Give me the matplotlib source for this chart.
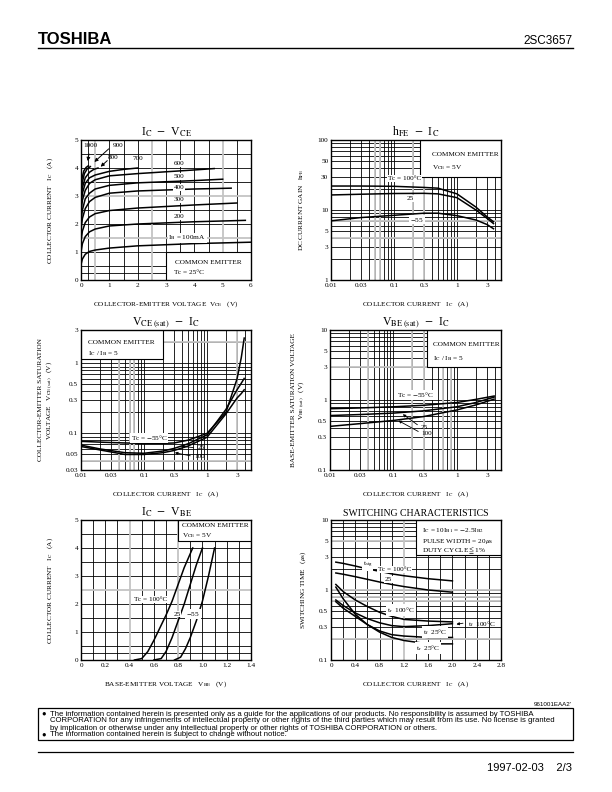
import numpy as np
import matplotlib
matplotlib.use("Agg")
import matplotlib.pyplot as plt
from matplotlib.patches import Rectangle
from matplotlib.ticker import FixedLocator, NullFormatter

plt.rcParams['font.family'] = ['Liberation Serif', 'DejaVu Serif']
plt.rcParams['mathtext.fontset'] = 'stix'

# ---- data: Ic - Vce (Ib in mA) ----
ib_labels = ['1000', '900', '800', '700', '600', '500', '400', '300', '200']
vce_x = {
    100: [0, 0.05, 0.15, 0.3, 0.5, 1, 2, 4, 6],
    200: [0, 0.05, 0.15, 0.3, 0.5, 1, 2, 4, 5.8],
    300: [0, 0.05, 0.15, 0.3, 0.5, 1, 2, 4, 5.5],
    400: [0, 0.05, 0.15, 0.3, 0.5, 1, 2, 4, 5.3],
    500: [0, 0.05, 0.15, 0.3, 0.5, 1, 2, 4, 5.0],
    600: [0, 0.05, 0.15, 0.3, 0.5, 1, 2, 4, 4.7],
    700: [0, 0.05, 0.15, 0.3, 0.5, 1, 1.5, 2],
    800: [0, 0.05, 0.15, 0.3, 0.45, 0.6],
    900: [0, 0.05, 0.12, 0.22, 0.33],
    1000: [0, 0.04, 0.1, 0.18, 0.26],
}
vce_ic = {
    100: [0.55, 0.75, 0.92, 1.02, 1.07, 1.14, 1.22, 1.3, 1.35],
    200: [1.0, 1.3, 1.55, 1.72, 1.82, 1.93, 2.0, 2.08, 2.13],
    300: [1.4, 1.75, 2.05, 2.25, 2.37, 2.48, 2.57, 2.68, 2.75],
    400: [1.8, 2.2, 2.55, 2.8, 2.95, 3.1, 3.18, 3.25, 3.28],
    500: [2.1, 2.5, 2.9, 3.1, 3.25, 3.38, 3.47, 3.55, 3.6],
    600: [2.4, 2.85, 3.2, 3.45, 3.58, 3.72, 3.8, 3.93, 3.98],
    700: [2.7, 3.1, 3.45, 3.65, 3.75, 3.88, 3.95, 4.0],
    800: [2.9, 3.3, 3.65, 3.85, 3.95, 4.0],
    900: [3.1, 3.5, 3.8, 3.97, 4.05],
    1000: [3.3, 3.65, 3.9, 4.02, 4.08],
}

# ---- data: hFE - Ic ----
hfe_ic = [0.01, 0.03, 0.1, 0.3, 0.5, 1, 2, 3, 3.8]
hfe_100 = [22, 22, 21.8, 21, 20.5, 17, 11, 8, 6.8]
hfe_25 = [16.4, 16.8, 17.2, 17.3, 17, 15, 10, 7.6, 6.4]
hfe_m55 = [7.0, 7.8, 8.4, 9.0, 9.0, 8.3, 7.2, 6.2, 5.4]

# ---- data: Vce(sat) - Ic ----
vs_ic = [0.01, 0.02, 0.05, 0.1, 0.2, 0.3, 0.5, 1, 2, 3, 3.5, 3.9]
vs_m55 = [0.077, 0.075, 0.073, 0.072, 0.072, 0.073, 0.08, 0.1, 0.2, 0.6, 1.2, 2.3]
vs_25 = [0.068, 0.06, 0.053, 0.052, 0.056, 0.061, 0.071, 0.095, 0.22, 0.42, 0.52, 0.61]
vs_100 = [0.065, 0.058, 0.05, 0.05, 0.053, 0.057, 0.066, 0.088, 0.19, 0.32, 0.37, 0.42]

# ---- data: Vbe(sat) - Ic ----
vb_ic = [0.01, 0.03, 0.1, 0.3, 1, 2, 3.9]
vb_m55 = [0.75, 0.77, 0.8, 0.84, 0.92, 1.02, 1.14]
vb_25 = [0.6, 0.62, 0.65, 0.7, 0.8, 0.92, 1.1]
vb_100 = [0.42, 0.46, 0.51, 0.58, 0.72, 0.85, 1.03]

# ---- data: Ic - Vbe ----
vbe_100 = [0.44, 0.5, 0.55, 0.6, 0.65, 0.7, 0.75, 0.8, 0.85, 0.92]
ic_100 = [0, 0.05, 0.3, 0.7, 1.15, 1.6, 2.1, 2.7, 3.3, 4.0]
vbe_25 = [0.6, 0.66, 0.7, 0.75, 0.8, 0.85, 0.9, 0.95, 1.0]
ic_25 = [0, 0.05, 0.3, 0.8, 1.4, 2.0, 2.7, 3.4, 4.0]
vbe_m55 = [0.77, 0.82, 0.86, 0.9, 0.95, 1.0, 1.05, 1.1]
ic_m55 = [0, 0.1, 0.4, 0.8, 1.4, 2.1, 3.0, 4.0]

# ---- data: switching ----
sw_ic = [0.08, 0.2, 0.4, 0.6, 0.8, 1.0, 1.2, 1.6, 2.0]
tstg_100 = [2.5, 2.4, 2.2, 2.0, 1.85, 1.7, 1.6, 1.45, 1.35]
tstg_25 = [1.75, 1.68, 1.55, 1.42, 1.3, 1.2, 1.12, 1.0, 0.93]
tr_100 = [1.2, 0.95, 0.72, 0.58, 0.48, 0.42, 0.38, 0.36, 0.35]
tf_100 = [0.72, 0.6, 0.47, 0.39, 0.34, 0.31, 0.3, 0.31, 0.33]
tr_25 = [1.1, 0.75, 0.45, 0.32, 0.25, 0.21, 0.19, 0.17, 0.17]
tf_25 = [0.68, 0.55, 0.42, 0.32, 0.26, 0.23, 0.22, 0.21, 0.21]

FS = 5.2
W, H = 612, 792
fig = plt.figure(figsize=(6.12, 7.92), dpi=100)


def make_axes(x0, y0, x1, y1):
    return fig.add_axes([x0 / W, 1 - y1 / H, (x1 - x0) / W, (y1 - y0) / H])


def style(ax, title, tsize=8.5):
    for s in ax.spines.values():
        s.set_linewidth(1.0)
    ax.tick_params(which='both', length=0, labelsize=FS, pad=2)
    ax.set_title(title, fontsize=tsize, pad=3)


def grid_lines(ax, xs, ys, gx=(), gy=()):
    for x in xs:
        ax.axvline(x, color='black', lw=0.6, zorder=1)
    for y in ys:
        ax.axhline(y, color='black', lw=0.6, zorder=1)
    for x in gx:
        ax.axvline(x, color='#c4c4c4', lw=1.3, zorder=1.1)
    for y in gy:
        ax.axhline(y, color='#c4c4c4', lw=1.3, zorder=1.1)


def log_lines(lo, hi):
    out = []
    d = 10.0 ** np.floor(np.log10(lo))
    while d < hi:
        for m in range(1, 10):
            v = m * d
            if lo < v < hi:
                out.append(v)
        d *= 10
    return out


def box(ax, x0, y0, x1, y1):
    ax.add_patch(Rectangle((x0, y0), x1 - x0, y1 - y0, facecolor='white',
                           edgecolor='black', lw=0.8, zorder=2))


def lab(ax, x, y, s, **kw):
    kw.setdefault('fontsize', FS)
    ax.text(x, y, s, zorder=5, **kw)


def wlab(ax, x, y, s, **kw):
    kw.setdefault('fontsize', FS)
    ax.text(x, y, s, zorder=5, ha='center', va='center',
            bbox=dict(facecolor='white', edgecolor='none', pad=0.6), **kw)


CL = dict(color='black', lw=1.1, zorder=4)

# ===== 1: Ic - Vce =====
ax = make_axes(81, 140, 251, 280)
ax.set_xlim(0, 6)
ax.set_ylim(0, 5)
grid_lines(ax, [0.25, 1, 1.5, 2, 3, 3.5, 4, 4.5, 5.5],
           [0.25, 0.5, 1, 2, 2.5, 3.5, 4, 4.5], gx=[0.5, 2.5, 5], gy=[1.5, 3])
box(ax, 3.0, -0.1, 6.2, 1.0)
for ib in vce_x:
    ax.plot(vce_x[ib], vce_ic[ib], **CL)
ax.set_xticks(range(0, 7))
ax.set_yticks(range(0, 6))
style(ax, r'I$_{\rm C}$  $-$  V$_{\rm CE}$')
lab(ax, 0.32, 4.79, '1000', ha='center', va='center')
lab(ax, 1.3, 4.81, '900', ha='center', va='center')
lab(ax, 1.12, 4.37, '800', ha='center', va='center')
lab(ax, 2.0, 4.33, '700', ha='center', va='center')
for s, y in zip(ib_labels[4:], [4.17, 3.69, 3.31, 2.86, 2.26]):
    wlab(ax, 3.46, y, s)
wlab(ax, 3.75, 1.5, r'I$_{\rm B}$ = 100mA')
lab(ax, 4.5, 0.62, 'COMMON EMITTER', ha='center', va='center')
lab(ax, 3.3, 0.26, r'Tc = 25°C', ha='left', va='center')
arr = dict(arrowstyle='-|>', lw=0.7, color='black', mutation_scale=5)
ax.annotate('', xy=(0.22, 4.15), xytext=(0.3, 4.6), arrowprops=arr, zorder=5)
ax.annotate('', xy=(0.4, 4.15), xytext=(1.05, 4.75), arrowprops=arr, zorder=5)
ax.annotate('', xy=(0.62, 3.98), xytext=(1.0, 4.33), arrowprops=arr, zorder=5)
ax.set_xlabel(r'COLLECTOR-EMITTER VOLTAGE  V$_{\rm CE}$   (V)', fontsize=FS, labelpad=8)
ax.set_ylabel(r'COLLECTOR CURRENT   I$_{\rm C}$   (A)', fontsize=FS, labelpad=14)

# ===== 2: hFE - Ic =====
ax = make_axes(331, 140, 501, 280)
ax.set_xscale('log')
ax.set_yscale('log')
ax.set_xlim(0.01, 5)
ax.set_ylim(1, 100)
grid_lines(ax, log_lines(0.01, 5), log_lines(1, 100),
           gx=[0.05, 0.06, 0.2, 0.3], gy=[4, 7])
box(ax, 0.26, 30, 6, 110)
ax.plot(hfe_ic, hfe_100, **CL)
ax.plot(hfe_ic, hfe_25, **CL)
ax.plot(hfe_ic, hfe_m55, **CL)
ax.xaxis.set_major_locator(FixedLocator([0.01, 0.03, 0.1, 0.3, 1, 3]))
ax.set_xticklabels(['0.01', '0.03', '0.1', '0.3', '1', '3'])
ax.yaxis.set_major_locator(FixedLocator([1, 3, 5, 10, 30, 50, 100]))
ax.set_yticklabels(['1', '3', '5', '10', '30', '50', '100'])
ax.xaxis.set_minor_formatter(NullFormatter())
ax.yaxis.set_minor_formatter(NullFormatter())
style(ax, r'h$_{\rm FE}$  $-$  I$_{\rm C}$')
wlab(ax, 0.145, 28, r'Tc = 100°C')
wlab(ax, 0.18, 14.5, '25')
wlab(ax, 0.23, 7.3, r'$-$55')
lab(ax, 0.4, 62, 'COMMON EMITTER', ha='left', va='center')
lab(ax, 0.4, 40, r'V$_{\rm CE}$ = 5V', ha='left', va='center')
ax.set_xlabel(r'COLLECTOR CURRENT   I$_{\rm C}$   (A)', fontsize=FS, labelpad=8)
ax.set_ylabel(r'DC CURRENT GAIN   h$_{\rm FE}$', fontsize=FS, labelpad=8)

# ===== 3: Vce(sat) - Ic =====
ax = make_axes(81, 330, 251, 470)
ax.set_xscale('log')
ax.set_yscale('log')
ax.set_xlim(0.01, 5)
ax.set_ylim(0.03, 3)
grid_lines(ax, log_lines(0.01, 5), log_lines(0.03, 3),
           gx=[0.04, 0.06, 0.07, 3], gy=[0.04, 2])
box(ax, 0.008, 1.15, 0.2, 4)
ax.plot(vs_ic, vs_m55, **CL)
ax.plot(vs_ic, vs_25, **CL)
ax.plot(vs_ic, vs_100, **CL)
ax.xaxis.set_major_locator(FixedLocator([0.01, 0.03, 0.1, 0.3, 1, 3]))
ax.set_xticklabels(['0.01', '0.03', '0.1', '0.3', '1', '3'])
ax.yaxis.set_major_locator(FixedLocator([0.03, 0.05, 0.1, 0.3, 0.5, 1, 3]))
ax.set_yticklabels(['0.03', '0.05', '0.1', '0.3', '0.5', '1', '3'])
ax.xaxis.set_minor_formatter(NullFormatter())
ax.yaxis.set_minor_formatter(NullFormatter())
style(ax, r'V$_{\rm CE\ (sat)}$  $-$  I$_{\rm C}$')
lab(ax, 0.013, 2.0, 'COMMON EMITTER', ha='left', va='center')
lab(ax, 0.013, 1.4, r'I$_{\rm C}$ / I$_{\rm B}$ = 5', ha='left', va='center')
wlab(ax, 0.12, 0.086, r'Tc = $-$55°C')
lab(ax, 0.7, 0.063, '25', ha='left', va='center')
lab(ax, 0.62, 0.047, '100', ha='left', va='center')
arr2 = dict(arrowstyle='-|>', lw=0.6, color='black', mutation_scale=4)
ax.annotate('', xy=(0.35, 0.066), xytext=(0.68, 0.062), arrowprops=arr2, zorder=5)
ax.annotate('', xy=(0.28, 0.054), xytext=(0.6, 0.047), arrowprops=arr2, zorder=5)
ax.set_xlabel(r'COLLECTOR CURRENT   I$_{\rm C}$   (A)', fontsize=FS, labelpad=8)
ax.set_ylabel('COLLECTOR-EMITTER SATURATION\n' + r'VOLTAGE   V$_{\rm CE\ (sat)}$   (V)',
              fontsize=FS, labelpad=8)

# ===== 4: Vbe(sat) - Ic =====
ax = make_axes(330, 330, 501, 470)
ax.set_xscale('log')
ax.set_yscale('log')
ax.set_xlim(0.01, 5)
ax.set_ylim(0.1, 10)
grid_lines(ax, log_lines(0.01, 5), log_lines(0.1, 10),
           gx=[0.04, 0.2, 0.3, 0.6, 0.8], gy=[3])
box(ax, 0.34, 3, 6, 11)
ax.plot(vb_ic, vb_m55, **CL)
ax.plot(vb_ic, vb_25, **CL)
ax.plot(vb_ic, vb_100, **CL)
ax.xaxis.set_major_locator(FixedLocator([0.01, 0.03, 0.1, 0.3, 1, 3]))
ax.set_xticklabels(['0.01', '0.03', '0.1', '0.3', '1', '3'])
ax.yaxis.set_major_locator(FixedLocator([0.1, 0.3, 0.5, 1, 3, 5, 10]))
ax.set_yticklabels(['0.1', '0.3', '0.5', '1', '3', '5', '10'])
ax.xaxis.set_minor_formatter(NullFormatter())
ax.yaxis.set_minor_formatter(NullFormatter())
style(ax, r'V$_{\rm BE\ (sat)}$  $-$  I$_{\rm C}$')
lab(ax, 0.42, 6.2, 'COMMON EMITTER', ha='left', va='center')
lab(ax, 0.42, 3.9, r'I$_{\rm C}$ / I$_{\rm B}$ = 5', ha='left', va='center')
wlab(ax, 0.22, 1.18, r'Tc = $-$55°C')
lab(ax, 0.27, 0.41, '25', ha='left', va='center')
lab(ax, 0.28, 0.33, '100', ha='left', va='center')
ax.annotate('', xy=(0.13, 0.66), xytext=(0.26, 0.42), arrowprops=arr2, zorder=5)
ax.annotate('', xy=(0.11, 0.53), xytext=(0.27, 0.34), arrowprops=arr2, zorder=5)
ax.set_xlabel(r'COLLECTOR CURRENT   I$_{\rm C}$   (A)', fontsize=FS, labelpad=8)
ax.set_ylabel('BASE-EMITTER SATURATION VOLTAGE\n' + r'V$_{\rm BE\ (sat)}$   (V)',
              fontsize=FS, labelpad=8)

# ===== 5: Ic - Vbe =====
ax = make_axes(81, 520, 251, 660)
ax.set_xlim(0, 1.4)
ax.set_ylim(0, 5)
grid_lines(ax, [0.1, 0.2, 0.3, 0.5, 0.6, 0.7, 0.9, 1.0, 1.1, 1.2, 1.3],
           [0.25, 0.5, 1, 1.5, 2, 3, 3.5, 4, 4.5], gx=[0.4, 0.8], gy=[2.5])
box(ax, 0.8, 4.25, 1.5, 5.2)
ax.plot(vbe_100, ic_100, **CL)
ax.plot(vbe_25, ic_25, **CL)
ax.plot(vbe_m55, ic_m55, **CL)
ax.set_xticks([0, 0.2, 0.4, 0.6, 0.8, 1.0, 1.2, 1.4])
ax.set_xticklabels(['0', '0.2', '0.4', '0.6', '0.8', '1.0', '1.2', '1.4'])
ax.set_yticks(range(0, 6))
style(ax, r'I$_{\rm C}$  $-$  V$_{\rm BE}$')
lab(ax, 0.83, 4.8, 'COMMON EMITTER', ha='left', va='center')
lab(ax, 0.83, 4.45, r'V$_{\rm CE}$ = 5V', ha='left', va='center')
wlab(ax, 0.575, 2.17, r'Tc = 100°C')
wlab(ax, 0.79, 1.64, '25')
wlab(ax, 0.92, 1.64, r'$-$55')
ax.set_xlabel(r'BASE-EMITTER VOLTAGE   V$_{\rm BE}$   (V)', fontsize=FS, labelpad=8)
ax.set_ylabel(r'COLLECTOR CURRENT   I$_{\rm C}$   (A)', fontsize=FS, labelpad=14)

# ===== 6: switching =====
ax = make_axes(331, 520, 501, 660)
ax.set_yscale('log')
ax.set_xlim(0, 2.8)
ax.set_ylim(0.1, 10)
grid_lines(ax, [0.2, 0.4, 0.6, 0.8, 1.0, 1.4, 1.6, 1.8, 2.0, 2.2, 2.4, 2.6],
           log_lines(0.1, 10), gx=[1.2], gy=[0.2, 0.7, 0.8, 1, 5])
box(ax, 1.4, 3.2, 3, 11)
for yv in (tstg_100, tstg_25, tr_100, tf_100, tr_25, tf_25):
    ax.plot(sw_ic, yv, **CL)
ax.set_xticks([0, 0.4, 0.8, 1.2, 1.6, 2.0, 2.4, 2.8])
ax.set_xticklabels(['0', '0.4', '0.8', '1.2', '1.6', '2.0', '2.4', '2.8'])
ax.yaxis.set_major_locator(FixedLocator([0.1, 0.3, 0.5, 1, 3, 5, 10]))
ax.set_yticklabels(['0.1', '0.3', '0.5', '1', '3', '5', '10'])
ax.yaxis.set_minor_formatter(NullFormatter())
style(ax, 'SWITCHING CHARACTERISTICS', tsize=7)
lab(ax, 1.5, 7.0, r'I$_{\rm C}$ = 10I$_{\rm B1}$ = $-$2.5I$_{\rm B2}$', ha='left', va='center')
lab(ax, 1.5, 5.0, r'PULSE WIDTH = 20$\mu$s', ha='left', va='center')
lab(ax, 1.5, 3.7, r'DUTY CYCLE$\leqq$1%', ha='left', va='center')
wlab(ax, 0.6, 2.3, r't$_{\rm stg}$')
wlab(ax, 1.05, 1.95, r'Tc = 100°C')
wlab(ax, 0.95, 1.42, '25')
wlab(ax, 1.15, 0.52, r't$_{\rm r}$  100°C')
wlab(ax, 1.72, 0.25, r't$_{\rm f}$  25°C')
wlab(ax, 1.6, 0.148, r't$_{\rm r}$  25°C')
lab(ax, 2.25, 0.33, r't$_{\rm f}$  100°C', ha='left', va='center')
ax.annotate('', xy=(2.02, 0.32), xytext=(2.22, 0.34), arrowprops=arr2, zorder=5)
ax.set_xlabel(r'COLLECTOR CURRENT   I$_{\rm C}$   (A)', fontsize=FS, labelpad=8)
ax.set_ylabel(r'SWITCHING TIME   ($\mu$s)', fontsize=FS, labelpad=8)

# ===== header / footer =====
sans = ['Liberation Sans', 'DejaVu Sans']
fig.text(38 / W, 1 - 44 / H, 'TOSHIBA', fontsize=12, fontweight='bold', family=sans)
fig.text(573 / W, 1 - 44 / H, '2SC3657', fontsize=8.5, family=sans, ha='right')
fig.add_artist(plt.Line2D([38 / W, 573 / W], [1 - 48 / H, 1 - 48 / H], color='black', lw=1.0))
fig.text(572 / W, 1 - 704 / H, "961001EAA2'", fontsize=4.5, family=sans, ha='right', va='center')
fig.add_artist(Rectangle((38 / W, 1 - 740 / H), 535 / W, 32 / H, fill=False,
                         edgecolor='black', lw=0.9, transform=fig.transFigure))
notes = [
    ('●', 'The information contained herein is presented only as a guide for the applications of our products. '
          'No responsibility is assumed by TOSHIBA'),
    ('', 'CORPORATION for any infringements of intellectual property or other rights of the third parties which '
         'may result from its use. No license is granted'),
    ('', 'by implication or otherwise under any intellectual property or other rights of TOSHIBA CORPORATION or others.'),
    ('●', 'The information contained herein is subject to change without notice.'),
]
for i, (b, t) in enumerate(notes):
    yy = 1 - (714 + i * 7) / H
    if b:
        fig.text(41 / W, yy, b, fontsize=5.5, family=sans, va='center')
    fig.text(50 / W, yy, t, fontsize=5.6, family=sans, va='center')
fig.add_artist(plt.Line2D([38 / W, 573 / W], [1 - 752 / H, 1 - 752 / H], color='black', lw=0.9))
fig.text(572 / W, 1 - 768 / H, '1997-02-03    2/3', fontsize=8, family=sans, ha='right', va='center')

fig.savefig('out.png', dpi=100)
